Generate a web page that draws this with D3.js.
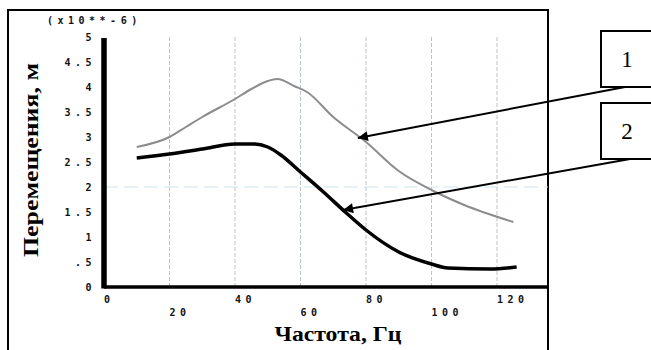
<!DOCTYPE html>
<html>
<head>
<meta charset="utf-8">
<script src="https://cdn.jsdelivr.net/npm/d3@7"></script>
<style>
  body { margin: 0; background: #fff; }
  svg { display: block; }
</style>
</head>
<body>
<div id="chart"></div>
<script>
// Frequency (Hz) and displacement (x10^-6 m)
const freq1 = [10, 20, 25, 30, 40, 45, 50, 53, 58, 62, 70, 80, 90, 100, 110, 125];
const disp1 = [2.80, 3.00, 3.20, 3.40, 3.76, 3.96, 4.12, 4.16, 4.02, 3.90, 3.40, 2.90, 2.32, 1.94, 1.64, 1.30];
const freq2 = [10, 20, 30, 40, 46, 50, 54, 60, 67, 74, 80, 90, 100, 105, 118, 126];
const disp2 = [2.58, 2.66, 2.76, 2.86, 2.86, 2.80, 2.64, 2.30, 1.90, 1.48, 1.14, 0.70, 0.46, 0.38, 0.36, 0.40];
const yTicks = [0, 0.5, 1, 1.5, 2, 2.5, 3, 3.5, 4, 4.5, 5];
const yTickLabels = ['0', '.5', '1', '1.5', '2', '2.5', '3', '3.5', '4', '4.5', '5'];
const xTicks = [0, 20, 40, 60, 80, 100, 120];
const gridX = [20, 40, 60, 80, 100, 120];
const seriesNames = ['1', '2'];

const width = 651;
const height = 350;

const svg = d3.select('#chart')
    .append('svg')
    .attr('width', width)
    .attr('height', height);

// arrow marker
svg.append('defs').append('marker')
    .attr('id', 'arrow')
    .attr('viewBox', '0 0 10 10')
    .attr('refX', 10)
    .attr('refY', 5)
    .attr('markerWidth', 16)
    .attr('markerHeight', 10)
    .attr('markerUnits', 'userSpaceOnUse')
    .attr('orient', 'auto')
    .append('path')
    .attr('d', 'M0,0 L10,5 L0,10 Z')
    .attr('fill', '#000');

// outer frame
svg.append('rect')
    .attr('x', 8).attr('y', 10)
    .attr('width', 540).attr('height', 360)
    .attr('fill', 'none')
    .attr('stroke', '#000')
    .attr('stroke-width', 2);

const x = d3.scaleLinear().domain([0, 120]).range([104, 497]);
const y = d3.scaleLinear().domain([0, 5]).range([287, 37]);

// grid
svg.selectAll('.gx')
    .data(gridX)
    .enter()
    .append('line')
    .attr('x1', d => x(d)).attr('x2', d => x(d))
    .attr('y1', y(5)).attr('y2', y(0))
    .attr('stroke', '#b9c3c9')
    .attr('stroke-width', 1)
    .attr('stroke-dasharray', '4,2');

svg.append('line')
    .attr('x1', x(0)).attr('x2', 548)
    .attr('y1', y(2)).attr('y2', y(2))
    .attr('stroke', '#cfe4ec')
    .attr('stroke-width', 1)
    .attr('stroke-dasharray', '14,6');

// axes lines
svg.append('line')
    .attr('x1', x(0)).attr('x2', 548)
    .attr('y1', y(0)).attr('y2', y(0))
    .attr('stroke', '#000')
    .attr('stroke-width', 3.5);

svg.append('line')
    .attr('x1', x(0)).attr('x2', x(0))
    .attr('y1', y(0) + 1.5).attr('y2', y(5) + 1)
    .attr('stroke', '#000')
    .attr('stroke-width', 5.5);

// tick labels (wide dotted print font)
const tickFont = 'DejaVu Sans Mono, monospace';

function tickText(sel) {
    sel.attr('font-family', tickFont)
        .attr('font-weight', 'bold')
        .attr('font-size', 10)
        .attr('letter-spacing', 4.5)
        .attr('fill', '#111');
}

svg.selectAll('.yl')
    .data(yTicks)
    .enter()
    .append('text')
    .attr('x', 96)
    .attr('y', d => y(d) + 3.5)
    .attr('text-anchor', 'end')
    .call(tickText)
    .text((d, i) => yTickLabels[i]);

svg.selectAll('.xl')
    .data(xTicks)
    .enter()
    .append('text')
    .attr('x', d => x(d))
    .attr('y', (d, i) => i % 2 === 0 ? 303 : 316)
    .call(tickText)
    .text(d => d);

svg.append('text')
    .attr('x', 47).attr('y', 24)
    .call(tickText)
    .text('(x10**-6)');

// axis titles
svg.append('text')
    .attr('transform', 'translate(38,' + 160 + ') rotate(-90)')
    .attr('text-anchor', 'middle')
    .attr('font-family', 'Liberation Serif, serif')
    .attr('font-weight', 'bold')
    .attr('font-size', 20)
    .attr('textLength', 194)
    .attr('lengthAdjust', 'spacingAndGlyphs')
    .text('Перемещения, м');

svg.append('text')
    .attr('x', 338).attr('y', 341)
    .attr('text-anchor', 'middle')
    .attr('font-family', 'Liberation Serif, serif')
    .attr('font-weight', 'bold')
    .attr('font-size', 21)
    .attr('textLength', 127)
    .attr('lengthAdjust', 'spacingAndGlyphs')
    .text('Частота, Гц');

// curves
const line = d3.line()
    .x(d => x(d[0]))
    .y(d => y(d[1]))
    .curve(d3.curveMonotoneX);

svg.append('path')
    .attr('d', line(d3.zip(freq1, disp1)))
    .attr('fill', 'none')
    .attr('stroke', '#8c8c8c')
    .attr('stroke-width', 2);

svg.append('path')
    .attr('d', line(d3.zip(freq2, disp2)))
    .attr('fill', 'none')
    .attr('stroke', '#000')
    .attr('stroke-width', 3.5);

// callout boxes with leader arrows
const callouts = [
    { name: seriesNames[0], top: 31, tip: [77.5, 2.98], from: [625, 87] },
    { name: seriesNames[1], top: 103, tip: [73, 1.54], from: [630, 159] }
];

callouts.forEach(c => {
    svg.append('rect')
        .attr('x', 601).attr('y', c.top)
        .attr('width', 70).attr('height', 56)
        .attr('fill', '#fff')
        .attr('stroke', '#000')
        .attr('stroke-width', 2);
    svg.append('text')
        .attr('x', 627).attr('y', c.top + 36)
        .attr('text-anchor', 'middle')
        .attr('font-family', 'Liberation Serif, serif')
        .attr('font-size', 23)
        .text(c.name);
    svg.append('line')
        .attr('x1', c.from[0]).attr('y1', c.from[1])
        .attr('x2', x(c.tip[0])).attr('y2', y(c.tip[1]))
        .attr('stroke', '#000')
        .attr('stroke-width', 2)
        .attr('marker-end', 'url(#arrow)');
});
</script>
</body>
</html>
